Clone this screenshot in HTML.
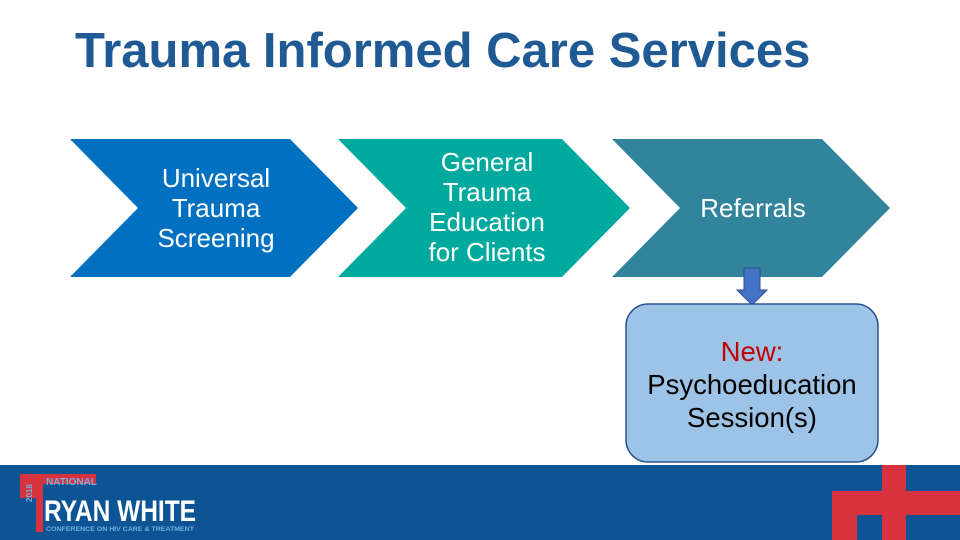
<html><body style="margin:0;width:960px;height:540px;position:relative;overflow:hidden;background:#fff;font-family:'Liberation Sans',sans-serif">
<div style="position:absolute;left:75px;top:23px;font-size:49px;font-weight:bold;color:#1f5a94;white-space:nowrap">Trauma Informed Care Services</div>
<svg width="960" height="540" style="position:absolute;left:0;top:0">
<polygon points="70,139 290,139 358,208 290,277 70,277 138,208" fill="#0070c0"/>
<polygon points="338,139 562,139 630,208 562,277 338,277 406,208" fill="#00a99d"/>
<polygon points="612,139 822,139 890,208 822,277 612,277 680,208" fill="#31849b"/>
<polygon points="744,268 760,268 760,290 767,290 752,305 737,290 744,290" fill="#4472c4" stroke="#2f528f" stroke-width="1"/>
<rect x="626" y="304" width="252" height="158" rx="22" fill="#9dc3e6" stroke="#2f528f" stroke-width="1.5"/>
<rect x="0" y="465" width="960" height="75" fill="#0d5495"/>
<rect x="882" y="465" width="24" height="75" fill="#d9323f"/>
<rect x="832" y="491" width="128" height="24" fill="#d9323f"/>
<rect x="832" y="491" width="25" height="49" fill="#d9323f"/>
<rect x="20" y="474" width="76" height="10" fill="#d9323f"/>
<rect x="20" y="474" width="23" height="24" fill="#d9323f"/>
<rect x="36" y="484" width="7" height="48" fill="#d9323f"/>
<text x="42" y="512" font-size="8" font-weight="bold" fill="#6fb3e0" transform="rotate(-90 32 512)">2018</text>
<text x="46" y="485" font-size="10" font-weight="bold" fill="#6fb3e0">NATIONAL</text>
<text x="44" y="521" font-size="30" font-weight="bold" fill="#fff" textLength="152" lengthAdjust="spacingAndGlyphs">RYAN WHITE</text>
<text x="46" y="531" font-size="6" font-weight="bold" fill="#6fb3e0" textLength="148" lengthAdjust="spacingAndGlyphs">CONFERENCE ON HIV CARE &amp; TREATMENT</text>
</svg>
<div style="position:absolute;left:136px;top:163px;width:160px;text-align:center;color:#fff;font-size:26px;line-height:30px">Universal Trauma Screening</div>
<div style="position:absolute;left:417px;top:147px;width:140px;text-align:center;color:#fff;font-size:26px;line-height:30px">General Trauma Education for Clients</div>
<div style="position:absolute;left:673px;top:193px;width:160px;text-align:center;color:#fff;font-size:26px;line-height:30px">Referrals</div>
<div style="position:absolute;left:616px;top:335px;width:272px;text-align:center;color:#000;font-size:27.5px;line-height:33px"><span style="color:#c00000">New:</span><br>Psychoeducation<br>Session(s)</div>
</body></html>
